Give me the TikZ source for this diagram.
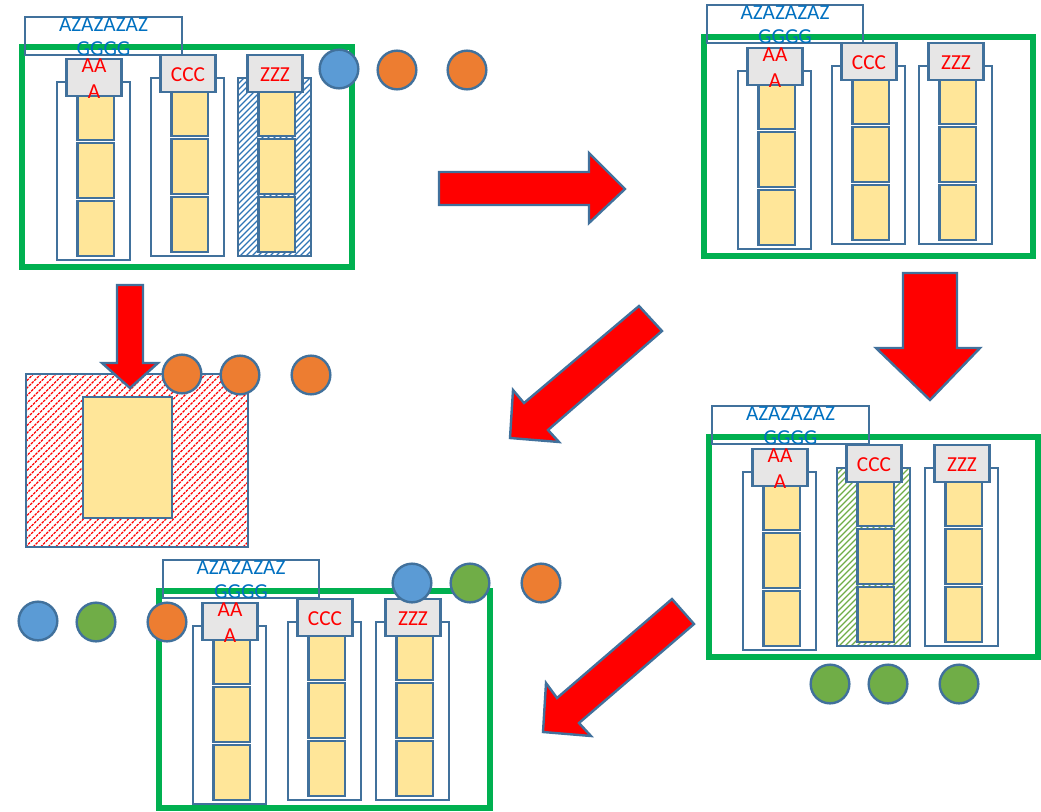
\documentclass[tikz,border=0pt]{standalone}
\usepackage{fontspec}
\setmainfont{Carlito}
\definecolor{boxblue}{RGB}{65,113,156}
\definecolor{cellyellow}{RGB}{255,230,153}
\definecolor{headgray}{RGB}{231,230,230}
\definecolor{framegreen}{RGB}{0,176,80}
\definecolor{textblue}{RGB}{0,112,192}
\definecolor{cblue}{RGB}{91,155,213}
\definecolor{corange}{RGB}{237,125,49}
\definecolor{cgreen}{RGB}{112,173,71}
\definecolor{hatchblue}{RGB}{46,117,182}
\definecolor{hatchgreen}{RGB}{112,173,71}
\tikzset{
  boxline/.style={draw=boxblue,line width=1.8pt},
  cellbox/.style={boxline,fill=cellyellow},
  headbox/.style={boxline,fill=headgray},
  frame/.style={draw=framegreen,line width=3.8pt},
  headtext/.style={text=red,font=\fontsize{16}{19}\selectfont,align=center,inner sep=0pt},
  labeltext/.style={text=textblue,font=\fontsize{16}{18}\selectfont,align=center,inner sep=0pt},
  dot/.style={circle,draw=boxblue,line width=1.8pt,minimum size=29pt,inner sep=0pt},
  bigarrow/.style={draw=boxblue,line width=1.8pt,fill=red,line join=miter},
  bluehatch/.style={draw=hatchblue,line width=0.9pt},
  greenhatch/.style={draw=hatchgreen,line width=0.9pt},
  redhatch/.style={draw=red,line width=0.9pt,dash pattern=on 2pt off 0.8pt},
  plain/.style={}
}
% diagonal hatching: #1 x1, #2 y1, #3 x2, #4 y2 (px, y down), #5 horizontal step, #6 line style
\newcommand\hatchrect[6]{%
  \begin{scope}
    \pgfmathsetmacro\hxa{#1}
    \pgfmathsetmacro\hya{#2}
    \pgfmathsetmacro\hxb{#3}
    \pgfmathsetmacro\hyb{#4}
    \clip (\hxa,\hya) rectangle (\hxb,\hyb);
    \pgfmathsetmacro\hh{\hyb-\hya}
    \pgfmathsetmacro\hs{\hxa-\hh}
    \pgfmathsetmacro\hn{\hs+#5}
    \foreach \xx in {\hs,\hn,...,\hxb} \draw[#6] (\xx,\hyb) -- ++(\hh,-\hh);
  \end{scope}
}
% #1 name, #2 X (outer left), #3 H (header top), #4 header text, #5 hatch style or empty
\newcommand\pcol[5]{%
  \ifx\relax#5\relax\else\hatchrect{#2}{#3+23}{#2+73}{#3+201}{6}{#5}\fi
  \draw[boxline] (#2,#3+23) rectangle (#2+73,#3+201);
  \draw[cellbox] (#2+20.5,#3+37) rectangle (#2+57,#3+81);
  \draw[cellbox] (#2+20.5,#3+84) rectangle (#2+57,#3+139);
  \draw[cellbox] (#2+20.5,#3+142) rectangle (#2+57,#3+197);
  \draw[headbox] (#2+9.5,#3) rectangle (#2+64.5,#3+37);
  \node[headtext] (#1) at (#2+37,#3+19.5) {#4};
}
% #1 name, #2 x1, #3 y1, #4 x2, #5 y2
\newcommand\plabel[5]{%
  \draw[boxline] (#2,#3) rectangle (#4,#5);
  \node[labeltext] (#1) at ({(#2+#4)/2},{(#3+#5)/2+1}) {AZAZAZAZ\\GGGG};
}
\begin{document}
\begin{tikzpicture}[x=0.75pt,y=-0.75pt]
\useasboundingbox (0,0) rectangle (1041,811);

% ---------- Panel 1 (top left)
\draw[frame] (22,47) rectangle (352,267);
\pcol{p1a}{57}{59}{AA\\A}{}
\pcol{p1b}{151}{55}{CCC}{}
\pcol{p1c}{238}{55}{ZZZ}{bluehatch}
\plabel{p1l}{25}{17}{182}{55}
\node[dot,fill=cblue] (p1d1) at (339,69) {};
\node[dot,fill=corange] (p1d2) at (397,70) {};
\node[dot,fill=corange] (p1d3) at (467,70) {};

% ---------- Panel 2 (top right)
\draw[frame] (704,37) rectangle (1033,256);
\pcol{p2a}{738}{48}{AA\\A}{}
\pcol{p2b}{832}{43}{CCC}{}
\pcol{p2c}{919}{43}{ZZZ}{}
\plabel{p2l}{707}{5}{863}{43}

% ---------- Panel 3 (middle right)
\draw[frame] (709,437) rectangle (1038,657);
\pcol{p3a}{743}{449}{AA\\A}{}
\pcol{p3b}{837}{445}{CCC}{greenhatch}
\pcol{p3c}{925}{445}{ZZZ}{}
\plabel{p3l}{712}{406}{869}{444}
\node[dot,fill=cgreen] (p3d1) at (830,684) {};
\node[dot,fill=cgreen] (p3d2) at (888,684) {};
\node[dot,fill=cgreen] (p3d3) at (959,684) {};

% ---------- Panel 4 (bottom)
\draw[frame] (159,591) rectangle (490,808);
\pcol{p4a}{193}{603}{AA\\A}{}
\pcol{p4b}{288}{599}{CCC}{}
\pcol{p4c}{376}{599}{ZZZ}{}
\plabel{p4l}{163}{560}{319}{598}
\node[dot,fill=cblue] (p4d1) at (38,621) {};
\node[dot,fill=cgreen] (p4d2) at (96,622) {};
\node[dot,fill=corange] (p4d3) at (167,622) {};
\node[dot,fill=cblue] (p4d4) at (412,583) {};
\node[dot,fill=cgreen] (p4d5) at (470,583) {};
\node[dot,fill=corange] (p4d6) at (541,583) {};

% ---------- Panel 5 (hatched block)
\hatchrect{26}{374}{248}{547}{7.5}{redhatch}
\draw[boxline] (26,374) rectangle (248,547);
\draw[cellbox] (83,397) rectangle (172,518);

% ---------- Block arrows
\draw[bigarrow] (439,172) -- (589,172) -- (589,153) -- (625,189) -- (589,223) -- (589,205) -- (439,205) -- cycle;
\draw[bigarrow] (117,285) -- (143,285) -- (143,363) -- (158,363) -- (130,388) -- (102,363) -- (117,363) -- cycle;
\draw[bigarrow] (903,273) -- (957,273) -- (957,348) -- (980,348) -- (930,400) -- (876,348) -- (903,348) -- cycle;
\draw[bigarrow] (639,306) -- (524,403) -- (513,390) -- (510,438) -- (559,442) -- (548,430) -- (662,331) -- cycle;
\draw[bigarrow] (672,599) -- (557,698) -- (546,683) -- (543,732) -- (591,736) -- (579,723) -- (694,624) -- cycle;

\node[dot,fill=corange] (p5d1) at (182,374) {};
\node[dot,fill=corange] (p5d2) at (240,375) {};
\node[dot,fill=corange] (p5d3) at (311,375) {};
\end{tikzpicture}
\end{document}
